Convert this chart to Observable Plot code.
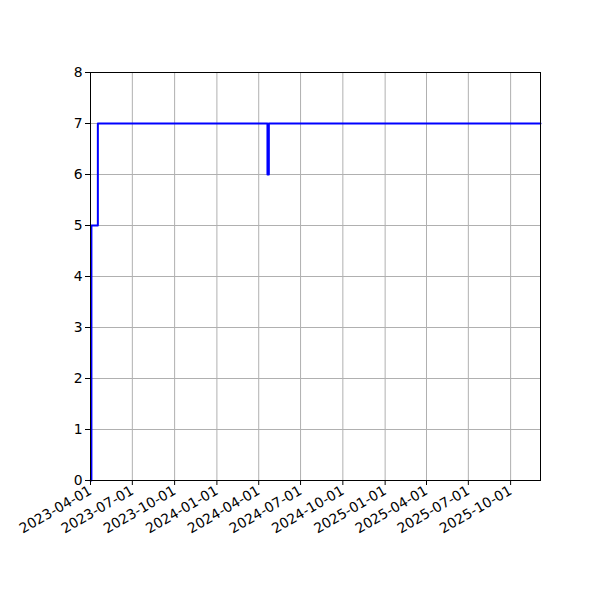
<!DOCTYPE html>
<html>
<head>
<meta charset="utf-8">
<script src="https://cdn.jsdelivr.net/npm/d3@7"></script>
<script src="https://cdn.jsdelivr.net/npm/@observablehq/plot@0.6"></script>
<style>
  html, body { margin: 0; padding: 0; background: #fff; }
  #chart { width: 600px; height: 600px; }
</style>
</head>
<body>
<div id="chart"></div>
<script>
// Step series (value holds from each date until the next)
const dates = ["2023-04-01", "2023-04-03", "2023-04-17", "2024-04-20", "2024-04-23", "2025-12-05"];
const values = [0, 5, 7, 6, 7, 7];
const xTickLabels = ["2023-04-01", "2023-07-01", "2023-10-01", "2024-01-01", "2024-04-01", "2024-07-01",
                     "2024-10-01", "2025-01-01", "2025-04-01", "2025-07-01", "2025-10-01"];
const yTicks = [0, 1, 2, 3, 4, 5, 6, 7, 8];

const parse = d3.utcParse("%Y-%m-%d");
const data = dates.map((d, i) => ({date: parse(d), value: values[i]}));
const xTicks = xTickLabels.map(parse);
const fmt = d3.utcFormat("%Y-%m-%d");

const chart = Plot.plot({
  width: 600,
  height: 600,
  marginLeft: 90,
  marginRight: 60,
  marginTop: 72,
  marginBottom: 120,
  style: {fontFamily: "DejaVu Sans", fontSize: "13.9px", color: "#000", background: "#fff"},
  x: {type: "utc", domain: [parse(dates[0]), parse(dates[dates.length - 1])]},
  y: {domain: [0, 8]},
  marks: [
    Plot.gridX(xTicks, {stroke: "#b0b0b0", strokeOpacity: 1, strokeWidth: 1}),
    Plot.gridY(yTicks, {stroke: "#b0b0b0", strokeOpacity: 1, strokeWidth: 1}),
    Plot.line(data, {x: "date", y: "value", curve: "step-after", stroke: "#0000ff", strokeWidth: 2}),
    Plot.frame({stroke: "#000", strokeWidth: 1}),
    Plot.axisY(yTicks, {tickSize: 5, tickPadding: 3, label: null, tickFormat: d3.format("d"), fontSize: 13.9, stroke: "#000"}),
    Plot.axisX(xTicks, {tickSize: 5, tickPadding: 4, label: null, tickFormat: fmt, tickRotate: -30, fontSize: 13.9, stroke: "#000"})
  ]
});
document.getElementById("chart").appendChild(chart);
</script>
</body>
</html>
